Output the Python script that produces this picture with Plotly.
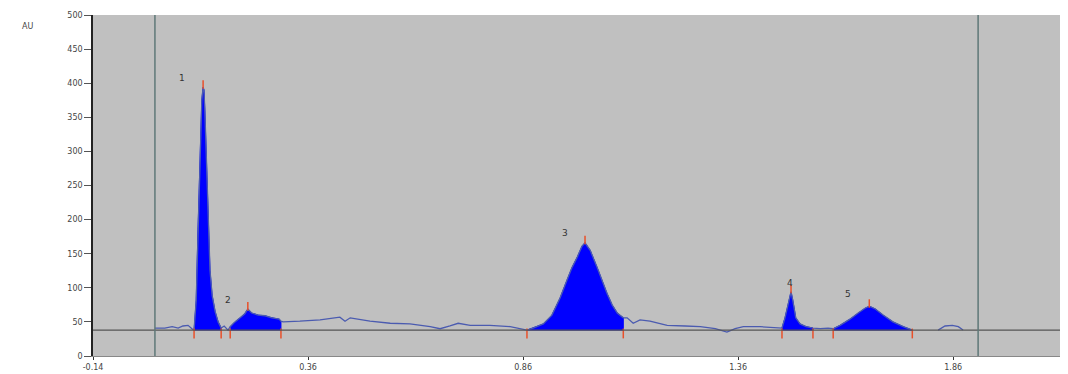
import plotly.graph_objects as go

# retention time (min) and absorbance (AU)
time_pts = [0.004, 0.027, 0.044, 0.058, 0.069, 0.081, 0.090,
            0.095, 0.100, 0.104, 0.109, 0.113, 0.116, 0.118, 0.120, 0.123, 0.127, 0.132, 0.137, 0.144, 0.151, 0.158,
            0.165, 0.174,
            0.179, 0.190, 0.202, 0.213, 0.220, 0.229, 0.244, 0.260, 0.276, 0.293, 0.297,
            0.302, 0.341, 0.388, 0.434, 0.446, 0.458, 0.504, 0.551, 0.597, 0.644, 0.667, 0.690, 0.709, 0.737, 0.783, 0.830, 0.858,
            0.869, 0.883, 0.907, 0.927, 0.946, 0.962, 0.974, 0.986, 0.997, 1.004, 1.016, 1.032, 1.044, 1.055, 1.067, 1.079, 1.093,
            1.102, 1.116, 1.132, 1.155, 1.195, 1.237, 1.272, 1.307, 1.334, 1.353, 1.372, 1.411, 1.451,
            1.462, 1.469, 1.476, 1.483, 1.487, 1.494, 1.504, 1.518, 1.534,
            1.551, 1.569,
            1.581, 1.597, 1.620, 1.639, 1.655, 1.665, 1.679, 1.697, 1.720, 1.744, 1.765,
            None,
            1.825, 1.841, 1.858, 1.872, 1.883]
signal_au = [41, 41, 43, 41, 44, 45, 40,
             38, 82, 185, 302, 375, 394, 390, 361, 302, 199, 126, 89, 65, 50, 41,
             44, 38,
             43, 50, 56, 62, 69, 63, 60, 59, 56, 54, 51,
             50, 51, 53, 57, 51, 56, 51, 48, 47, 43, 40, 44, 48, 45, 45, 43, 40,
             38, 41, 47, 60, 85, 111, 130, 145, 161, 166, 155, 130, 110, 92, 75, 63, 56,
             56, 48, 53, 51, 45, 44, 43, 40, 35, 40, 43, 43, 41,
             41, 56, 75, 94, 82, 56, 47, 43, 41,
             40, 41,
             40, 45, 54, 63, 70, 73, 69, 60, 50, 43, 38,
             None,
             38, 44, 45, 43, 38]

peak_ids = ["1", "2", "3", "4", "5"]
peak_start = [0.095, 0.179, 0.869, 1.462, 1.581]
peak_end = [0.158, 0.297, 1.093, 1.534, 1.765]
peak_apex = [0.116, 0.220, 1.004, 1.483, 1.665]
peak_height = [394, 69, 166, 94, 73]
label_x = [0.067, 0.174, 0.958, 1.481, 1.616]
label_y = [408, 82, 180, 107, 91]

baseline_au = 38
marker_lines = [0.004, 1.918]
x_ticks = [-0.14, 0.36, 0.86, 1.36, 1.86]
x_tick_text = ["-0.14", "0.36", "0.86", "1.36", "1.86"]
y_ticks = [0, 50, 100, 150, 200, 250, 300, 350, 400, 450, 500]

fig = go.Figure()

# filled peak areas
for s, e in zip(peak_start, peak_end):
    xs, ys = [], []
    for t, v in zip(time_pts, signal_au):
        if t is not None and s <= t <= e:
            xs.append(t)
            ys.append(v)
    xs += [e, s]
    ys += [baseline_au, baseline_au]
    fig.add_trace(go.Scatter(x=xs, y=ys, fill="toself", fillcolor="#0000ff",
                             mode="lines", line=dict(color="#0000ff", width=1),
                             hoverinfo="skip", showlegend=False))

# chromatogram trace
fig.add_trace(go.Scatter(x=time_pts, y=signal_au, mode="lines",
                         line=dict(color="#4b5bb0", width=1.3),
                         connectgaps=False, showlegend=False))

# integration start/end markers
fig.add_trace(go.Scatter(x=peak_start + peak_end,
                         y=[baseline_au - 5] * (len(peak_start) + len(peak_end)),
                         mode="markers",
                         marker=dict(symbol="line-ns-open", size=7, color="#e8502a",
                                     line=dict(color="#e8502a", width=1.5)),
                         showlegend=False, hoverinfo="skip"))
# apex markers
fig.add_trace(go.Scatter(x=peak_apex, y=[h + 4 for h in peak_height],
                         mode="markers",
                         marker=dict(symbol="line-ns-open", size=6, color="#e8502a",
                                     line=dict(color="#e8502a", width=1.5)),
                         showlegend=False, hoverinfo="skip"))

for pid, lx, ly in zip(peak_ids, label_x, label_y):
    fig.add_annotation(x=lx, y=ly, text=pid, showarrow=False,
                       font=dict(size=9, color="#333333", family="DejaVu Sans"))

# baseline and vertical cursor lines
fig.add_hline(y=baseline_au, line=dict(color="#555555", width=1.2))
for v in marker_lines:
    fig.add_vline(x=v, line=dict(color="#5f7878", width=1.5))

fig.add_annotation(xref="paper", yref="paper", x=-0.075, y=0.985, text="AU",
                   showarrow=False, font=dict(size=8, color="#444444", family="DejaVu Sans"))

# figure sized to the window minus the page's 8px body margin
fig.update_layout(
    width=1060, height=366,
    margin=dict(l=85, r=0, t=7, b=18),
    paper_bgcolor="white",
    plot_bgcolor="#c0c0c0",
    font=dict(family="DejaVu Sans", size=8, color="#444444"),
    xaxis=dict(range=[-0.14, 2.127], tickvals=x_ticks, ticktext=x_tick_text,
               showgrid=False, zeroline=False, showline=True, linecolor="#888888",
               linewidth=1, ticks="outside", ticklen=3, tickcolor="#333333"),
    yaxis=dict(range=[0, 500], tickvals=y_ticks, showgrid=False, zeroline=False,
               showline=True, linecolor="#222222", linewidth=1.5,
               ticks="outside", ticklen=7, tickcolor="#555555"),
)

fig.write_html("out.html")
